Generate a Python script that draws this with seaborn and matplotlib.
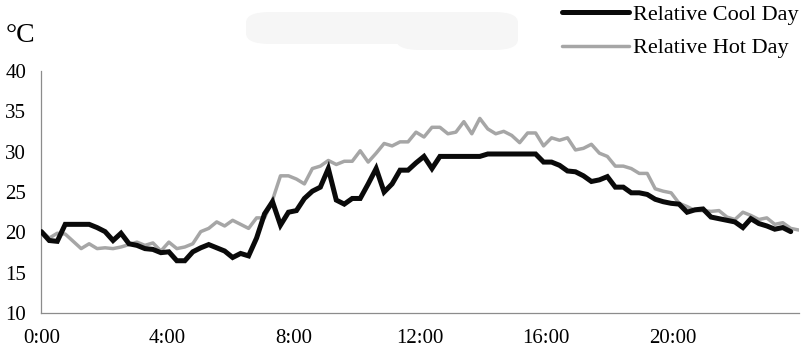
import numpy as np
import pandas as pd
import matplotlib
matplotlib.use("Agg")
import matplotlib.pyplot as plt
from matplotlib.patches import FancyBboxPatch
from matplotlib.ticker import FixedLocator, FixedFormatter
import seaborn as sns

# ---------------- data (°C, samples spaced evenly over the day) ----------------
cool_day = [
    20.1, 19.0, 18.9, 21.0, 21.0, 21.0, 21.0, 20.6, 20.1, 19.0,
    19.9, 18.6, 18.4, 18.0, 17.9, 17.5, 17.6, 16.5, 16.5, 17.6,
    18.1, 18.5, 18.1, 17.7, 16.9, 17.4, 17.1, 19.3, 22.3, 23.8,
    20.9, 22.5, 22.7, 24.2, 25.1, 25.6, 27.9, 24.0, 23.5, 24.2,
    24.2, 26.0, 27.9, 25.0, 26.0, 27.7, 27.7, 28.6, 29.4, 27.9,
    29.4, 29.4, 29.4, 29.4, 29.4, 29.4, 29.7, 29.7, 29.7, 29.7,
    29.7, 29.7, 29.7, 28.7, 28.7, 28.3, 27.6, 27.5, 27.0, 26.3,
    26.5, 26.9, 25.6, 25.6, 24.9, 24.9, 24.7, 24.1, 23.8, 23.6,
    23.5, 22.5, 22.8, 22.9, 21.9, 21.7, 21.5, 21.3, 20.6, 21.7,
    21.1, 20.8, 20.4, 20.6, 20.1,
]
hot_day = [
    20.2, 19.3, 19.9, 19.8, 18.9, 18.0, 18.6, 18.0, 18.1, 18.0,
    18.2, 18.5, 18.8, 18.4, 18.7, 17.7, 18.8, 18.0, 18.2, 18.6,
    20.1, 20.5, 21.3, 20.8, 21.5, 21.0, 20.5, 21.8, 21.8, 24.0,
    27.0, 27.0, 26.6, 26.0, 27.9, 28.2, 28.9, 28.4, 28.8, 28.8,
    30.1, 28.7, 29.8, 31.0, 30.7, 31.2, 31.2, 32.4, 31.8, 33.0,
    33.0, 32.2, 32.4, 33.7, 32.2, 34.1, 32.8, 32.2, 32.5, 32.0,
    31.1, 32.3, 32.3, 30.7, 31.7, 31.4, 31.7, 30.2, 30.4, 30.9,
    29.8, 29.4, 28.2, 28.2, 27.9, 27.3, 27.3, 25.4, 25.1, 24.9,
    23.6, 23.2, 22.7, 22.7, 22.6, 22.7, 21.9, 21.6, 22.5, 22.1,
    21.6, 21.8, 21.0, 21.2, 20.5, 20.3,
]
series_names = ["Relative Cool Day", "Relative Hot Day"]
x_tick_hours = [0, 4, 8, 12, 16, 20]
x_tick_labels = ["0:00", "4:00", "8:00", "12:00", "16:00", "20:00"]
y_ticks = [10, 15, 20, 25, 30, 35, 40]
y_unit = "°C"

# sample positions (hours): 96 samples spread across the 24 h axis
n_samples = len(hot_day)
step = 24 / (n_samples - 1)
df_cool = pd.DataFrame({"hour": np.arange(len(cool_day)) * step, "temp": cool_day})
df_hot = pd.DataFrame({"hour": np.arange(len(hot_day)) * step, "temp": hot_day})

# ---------------- style ----------------
sns.set_style("white")
plt.rcParams["font.family"] = ["Liberation Serif", "DejaVu Serif"]
plt.rcParams["axes.unicode_minus"] = False

W, H = 804, 356
fig = plt.figure(figsize=(W / 100, H / 100), dpi=100)
ax = fig.add_axes([41.3 / W, 1 - 313.3 / H, (798.7 - 41.3) / W, (313.3 - 70.7) / H])

# faint blob at top (as in reference)
blob_col = "#f6f6f6"
fig.patches.append(FancyBboxPatch((246 / W, 1 - 44 / H), 272 / W, 32 / H,
                                  boxstyle="round,pad=0,rounding_size=0.03",
                                  transform=fig.transFigure, facecolor=blob_col,
                                  edgecolor="none", zorder=0))
fig.patches.append(FancyBboxPatch((396 / W, 1 - 50 / H), 122 / W, 30 / H,
                                  boxstyle="round,pad=0,rounding_size=0.03",
                                  transform=fig.transFigure, facecolor=blob_col,
                                  edgecolor="none", zorder=0))

sns.lineplot(data=df_cool, x="hour", y="temp", ax=ax, color="#0a0a0a",
             linewidth=3.6, label=series_names[0], zorder=3,
             solid_joinstyle="miter")
sns.lineplot(data=df_hot, x="hour", y="temp", ax=ax, color="#a6a6a6",
             linewidth=2.5, label=series_names[1], zorder=2)

ax.set_xlim(0, 24)
ax.set_ylim(10, 40)
ax.set_xlabel("")
ax.set_ylabel("")

ax.xaxis.set_major_locator(FixedLocator(x_tick_hours))
ax.xaxis.set_major_formatter(FixedFormatter(x_tick_labels))
ax.xaxis.set_minor_locator(FixedLocator(list(range(0, 25))))
ax.set_yticks(y_ticks)
ax.set_yticklabels([str(v) for v in y_ticks])

axis_col = "#8c8c8c"
for side in ["top", "right"]:
    ax.spines[side].set_visible(False)
for side in ["left", "bottom"]:
    ax.spines[side].set_color(axis_col)
    ax.spines[side].set_linewidth(0.9)

ax.tick_params(axis="both", which="both", direction="out", length=4,
               width=0.9, color=axis_col, labelsize=15, labelcolor="black")
ax.tick_params(axis="x", which="major", pad=7)
ax.tick_params(axis="y", which="major", pad=7)

fig.text(6 / W, 1 - 42 / H, y_unit, fontsize=20, color="black",
         ha="left", va="baseline")

leg = ax.legend(loc="upper left", bbox_to_anchor=(562 / W, 1 - 4 / H),
                bbox_transform=fig.transFigure, frameon=False, fontsize=16,
                handlelength=3.0, handletextpad=0.2, labelspacing=0.6,
                borderpad=0, borderaxespad=0)
for t in leg.get_texts():
    t.set_color("black")

fig.savefig("out.png", dpi=100, facecolor="white")
